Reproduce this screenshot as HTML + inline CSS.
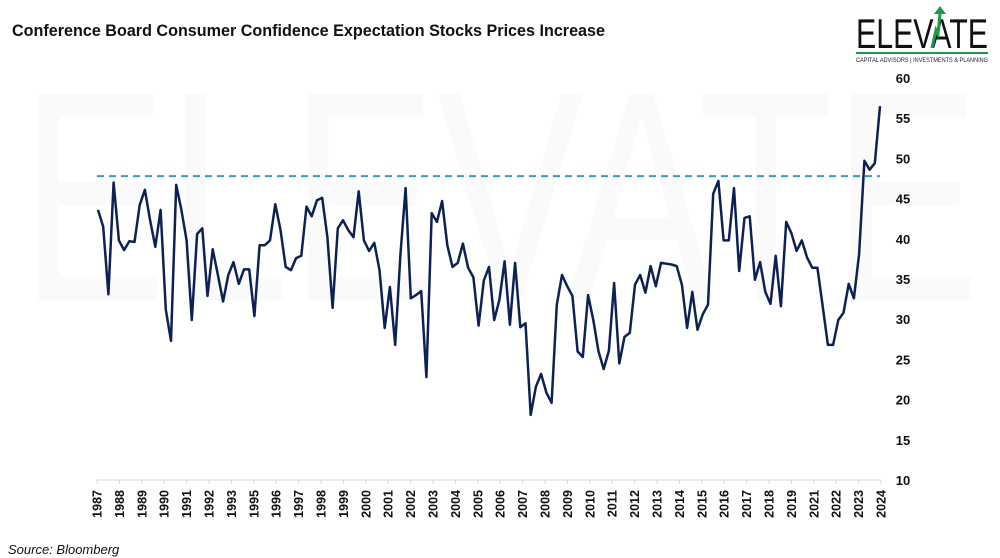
<!DOCTYPE html>
<html><head><meta charset="utf-8"><style>
body{margin:0;background:#fff;font-family:"Liberation Sans",sans-serif}
#wrap{position:relative;width:1000px;height:558px;overflow:hidden}
</style></head><body>
<div id="wrap">
<svg id="chart" width="1000" height="558">
<text x="500" y="300" text-anchor="middle" font-size="300" fill="#fafafa" textLength="960" lengthAdjust="spacingAndGlyphs">ELEVATE</text>
<text x="12" y="36" font-size="17" font-weight="bold" fill="#111" textLength="593" lengthAdjust="spacingAndGlyphs">Conference Board Consumer Confidence Expectation Stocks Prices Increase</text>
<g>
<text x="856" y="48" font-size="42" fill="#111" textLength="132" lengthAdjust="spacingAndGlyphs">ELEVATE</text>
<path d="M932 48 L936 30 L938 34 L940 14" stroke="#1a9a4a" stroke-width="3" fill="none"/>
<polygon points="934,14 940,6 946,14" fill="#1a9a4a"/>
<rect x="856" y="52" width="132" height="2" fill="#1a9a4a"/>
<text x="856" y="62" font-size="6.5" fill="#222" textLength="132" lengthAdjust="spacingAndGlyphs">CAPITAL ADVISORS | INVESTMENTS &amp; PLANNING</text>
</g>
<g id="yaxis"></g>
<g id="xaxis"></g>
<g id="series"></g>
<text x="8" y="554" font-size="13" font-style="italic" fill="#111">Source: Bloomberg</text>
</svg>
</div>
<script>
const yTicks=[10,15,20,25,30,35,40,45,50,55,60];
const xLabels=["1987","1988","1989","1990","1991","1992","1993","1995","1996","1997","1998","1999","2000","2001","2002","2003","2004","2005","2006","2007","2008","2009","2010","2011","2012","2013","2014","2015","2016","2017","2018","2019","2021","2022","2023","2024"];
const refLevel=47.8;
const values=[43.6,41.5,33.1,47,39.8,38.6,39.7,39.6,44.2,46.1,42.3,39,43.6,31.2,27.3,46.7,43.6,39.8,29.9,40.6,41.3,32.9,38.7,35.5,32.2,35.5,37.1,34.4,36.2,36.2,30.4,39.2,39.2,39.8,44.3,41.1,36.5,36.1,37.6,37.9,44,42.8,44.8,45.1,40.2,31.4,41.3,42.3,41.1,40.2,45.9,39.8,38.5,39.5,36.1,28.9,34,26.8,38,46.3,32.6,33,33.5,22.8,43.2,42.1,44.7,39.2,36.5,37,39.4,36.4,35.2,29.2,34.8,36.5,29.9,32.4,37.2,29.3,37,29,29.5,18.1,21.6,23.2,20.9,19.6,31.8,35.5,34.1,32.9,26,25.3,33,29.9,26,23.8,26.1,34.5,24.5,27.8,28.3,34.3,35.5,33.3,36.6,34.1,37,36.9,36.8,36.6,34.3,28.9,33.4,28.7,30.6,31.8,45.6,47.2,39.8,39.8,46.3,36,42.6,42.8,34.9,37.1,33.4,31.9,37.9,31.6,42.1,40.7,38.5,39.8,37.7,36.4,36.4,31.6,26.8,26.8,29.9,30.8,34.4,32.6,38.1,49.7,48.6,49.4,56.5];
const NS="http://www.w3.org/2000/svg";
const X0=98,X1=880,TX0=97,TX1=881;
function y(v){return 480-(v-10)*(402/50);}
function x(i){return X0+i*(X1-X0)/(values.length-1);}
function mk(t,a,p){const e=document.createElementNS(NS,t);for(const k in a)e.setAttribute(k,a[k]);p.appendChild(e);return e;}
const ya=document.getElementById('yaxis'),xa=document.getElementById('xaxis'),se=document.getElementById('series');
yTicks.forEach(v=>{const t=mk('text',{x:903,y:y(v)+5,'text-anchor':'middle','font-size':13,'font-weight':'bold',fill:'#111'},ya);t.textContent=v;

});
const ax=mk('line',{x1:TX0,x2:TX1,y1:480,y2:480,stroke:'#d9d9d9','stroke-width':1},xa);


xLabels.forEach((l,i)=>{const px=TX0+i*(TX1-TX0)/(xLabels.length-1);
mk('line',{x1:px,x2:px,y1:480,y2:484,stroke:'#d9d9d9'},xa);
const t=mk('text',{x:0,y:0,'text-anchor':'end','font-size':12.5,'font-weight':'bold',fill:'#111',transform:`translate(${px+4.5},490) rotate(-90)`},xa);t.textContent=l;

});
const rl=mk('line',{x1:97,x2:880,y1:y(refLevel),y2:y(refLevel),stroke:'#2aa0c8','stroke-width':2,'stroke-dasharray':'7,5'},se);


const pl=mk('polyline',{points:values.map((v,i)=>x(i).toFixed(1)+','+y(v).toFixed(1)).join(' '),fill:'none',stroke:'#0d2154','stroke-width':2.5,'stroke-linejoin':'round'},se);


</script>
</body></html>
